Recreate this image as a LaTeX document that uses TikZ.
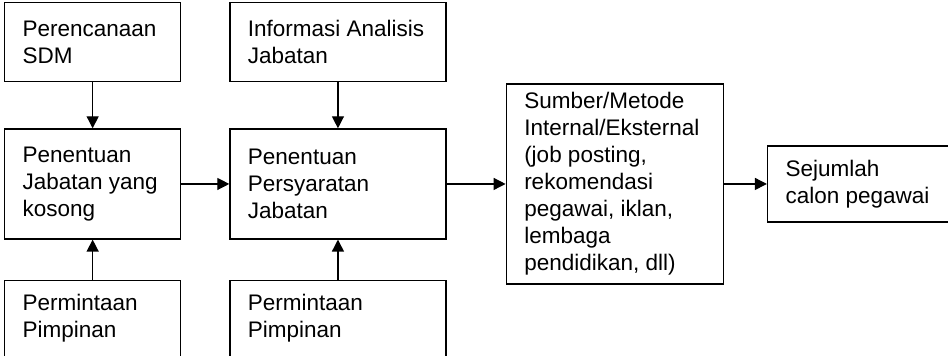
\documentclass[tikz,border=0pt]{standalone}
\usepackage{fontspec}
\setmainfont{Liberation Sans}
\usetikzlibrary{positioning,arrows.meta}

\begin{document}
\begin{tikzpicture}[
        x=1pt, y=1pt,
        stage/.style={draw, line width=1.3pt, align=flush left, inner xsep=18pt, inner ysep=0pt, font=\fontsize{22.5pt}{27pt}\selectfont},
        flow/.style={-{Triangle[length=12pt, width=12pt]}, line width=1.3pt}
    ]
        \useasboundingbox (0,0) rectangle (948,-356);

        \node[stage, text width=140pt, minimum height=79pt, anchor=north west] (planning) at (4,-2) {
            Perencanaan\\
            SDM
        };

        \node[stage, text width=140pt, minimum height=110pt, below=46pt of planning] (vacancy) {
            Penentuan\\
            Jabatan yang\\
            kosong
        };

        \node[stage, text width=140pt, minimum height=76pt, below=40pt of vacancy] (request1) {
            Permintaan\\
            Pimpinan
        };

        \node[stage, text width=180pt, minimum height=79pt, right=48pt of planning.north east, anchor=north west] (jobinfo) {
            Informasi Analisis\\
            Jabatan
        };

        \node[stage, text width=180pt, minimum height=110pt, below=46pt of jobinfo] (requirement) {
            Penentuan\\
            Persyaratan\\
            Jabatan
        };

        \node[stage, text width=180pt, minimum height=76pt, below=40pt of requirement] (request2) {
            Permintaan\\
            Pimpinan
        };

        \node[stage, text width=181pt, minimum height=200pt, right=59pt of requirement] (sources) {
            Sumber/Metode\\
            Internal/Eksternal\\
            (job posting,\\
            rekomendasi\\
            pegawai, iklan,\\
            lembaga\\
            pendidikan, dll)
        };

        \node[stage, text width=148pt, minimum height=76pt, right=43pt of sources] (candidates) {
            Sejumlah\\
            calon pegawai
        };

        \draw[flow] (planning) -- (vacancy);
        \draw[flow] (request1) -- (vacancy);
        \draw[flow] (jobinfo) -- (requirement);
        \draw[flow] (request2) -- (requirement);
        \draw[flow] (vacancy) -- (requirement);
        \draw[flow] (requirement) -- (sources);
        \draw[flow] (sources) -- (candidates);
    \end{tikzpicture}
\end{document}
